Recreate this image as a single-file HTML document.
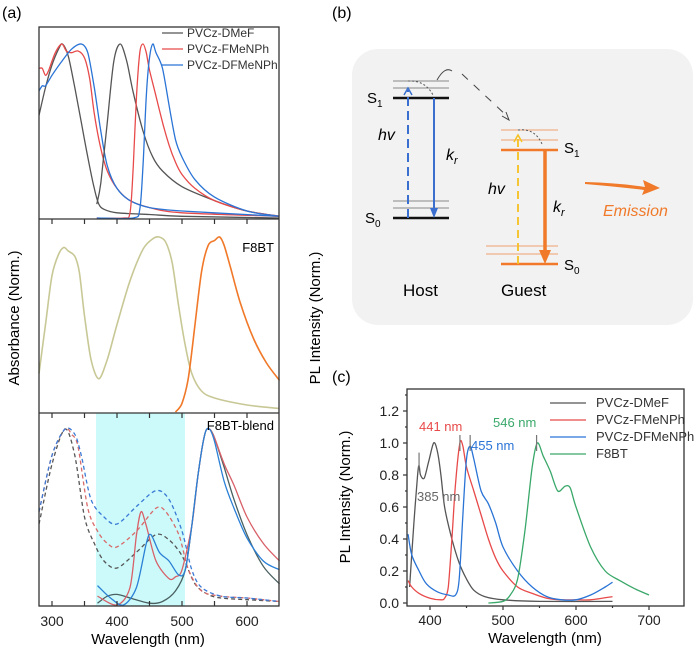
<!DOCTYPE html>
<html><head><meta charset="utf-8">
<style>
html,body{margin:0;padding:0;background:#fff;}
svg{display:block;font-family:"Liberation Sans",Arial,sans-serif;}
</style></head>
<body>
<svg id="fig" width="700" height="650" viewBox="0 0 700 650" xmlns="http://www.w3.org/2000/svg">
  <text x="2" y="18" font-size="16">(a)</text>
  <text x="332" y="18" font-size="16">(b)</text>
  <text x="332" y="382" font-size="16">(c)</text>

  <!-- panel a -->
  <rect x="96" y="413" width="89" height="193" fill="#ccfafa"/>
  <g id="aCurves"></g>
  <rect x="39" y="27" width="240" height="579" fill="none" stroke="#333" stroke-width="1.3"/>
  <line x1="39" y1="219" x2="279" y2="219" stroke="#333" stroke-width="1.3"/>
  <line x1="39" y1="413" x2="279" y2="413" stroke="#333" stroke-width="1.3"/>
  <g id="aTicks"></g>
  <text x="148" y="644" font-size="15" text-anchor="middle">Wavelength (nm)</text>
  <text transform="translate(19,318) rotate(-90)" font-size="15" text-anchor="middle">Absorbance (Norm.)</text>
  <text transform="translate(320,318) rotate(-90)" font-size="15" text-anchor="middle">PL Intensity (Norm.)</text>
  <g>
    <line x1="162" y1="33" x2="183" y2="33" stroke="#555" stroke-width="1.3"/><text x="187" y="37" font-size="12" fill="#333">PVCz-DMeF</text>
    <line x1="162" y1="49" x2="183" y2="49" stroke="#e84a4a" stroke-width="1.3"/><text x="187" y="53" font-size="12" fill="#333">PVCz-FMeNPh</text>
    <line x1="162" y1="65" x2="183" y2="65" stroke="#2a74d6" stroke-width="1.3"/><text x="187" y="69" font-size="12" fill="#333">PVCz-DFMeNPh</text>
  </g>
  <text x="274" y="252" font-size="13" text-anchor="end">F8BT</text>
  <text x="274" y="430" font-size="13" text-anchor="end">F8BT-blend</text>

  <!-- panel b -->
  <g>
    <rect x="352" y="49" width="341" height="276" rx="26" fill="#f2f2f2"/>
    <g stroke="#888" stroke-width="1"><line x1="393" y1="81" x2="449" y2="81"/><line x1="393" y1="88" x2="449" y2="88"/><line x1="393" y1="201" x2="449" y2="201"/><line x1="393" y1="208" x2="449" y2="208"/></g>
    <line x1="393" y1="98" x2="449" y2="98" stroke="#111" stroke-width="2.5"/>
    <line x1="393" y1="218" x2="449" y2="218" stroke="#111" stroke-width="2.5"/>
    <line x1="408" y1="218" x2="408" y2="90" stroke="#3a6fd0" stroke-width="2" stroke-dasharray="9,5"/>
    <path d="M404 95 L408 88 L412 95" fill="none" stroke="#3a6fd0" stroke-width="1.5"/>
    <line x1="434" y1="98" x2="434" y2="210" stroke="#3a6fd0" stroke-width="2"/>
    <path d="M430 208 L434 218 L438 208 Z" fill="#3a6fd0"/>
    <path d="M408 81 Q425 80 433 95" fill="none" stroke="#555" stroke-dasharray="2,2"/>
    <path d="M437 80 Q445 66 452 71" fill="none" stroke="#444"/>
    <path d="M462 74 L507 116" fill="none" stroke="#444" stroke-dasharray="8,8"/>
    <path d="M502 116 L509 120 L506 112" fill="none" stroke="#444"/>
    <g stroke="#f0a070" stroke-width="1"><line x1="501" y1="130" x2="558" y2="130"/><line x1="501" y1="140" x2="558" y2="140"/><line x1="486" y1="246" x2="558" y2="246"/><line x1="486" y1="254" x2="558" y2="254"/></g>
    <line x1="501" y1="150" x2="558" y2="150" stroke="#f07a2a" stroke-width="2.5"/>
    <line x1="501" y1="264" x2="558" y2="264" stroke="#f07a2a" stroke-width="2.5"/>
    <line x1="518" y1="264" x2="518" y2="137" stroke="#f5c020" stroke-width="1.8" stroke-dasharray="8,5"/>
    <path d="M514 142 L518 135 L522 142" fill="none" stroke="#f5c020" stroke-width="1.5"/>
    <line x1="545" y1="150" x2="545" y2="252" stroke="#f07a2a" stroke-width="3.5"/>
    <path d="M539 250 L545 264 L551 250 Z" fill="#f07a2a"/>
    <path d="M518 130 Q535 128 542 144" fill="none" stroke="#555" stroke-dasharray="2,2"/>
    <path d="M585 182 Q620 183 645 187 L643 180 L660 188 L642 195 L644 190 Q620 187 585 184 Z" fill="#f07a2a"/>
    <text x="367" y="103" font-size="15">S<tspan font-size="10" dy="4">1</tspan></text>
    <text x="365" y="223" font-size="15">S<tspan font-size="10" dy="4">0</tspan></text>
    <text x="378" y="140" font-size="16" font-style="italic">hv</text>
    <text x="446" y="160" font-size="16" font-style="italic">k<tspan font-size="11" dy="4">r</tspan></text>
    <text x="564" y="153" font-size="15">S<tspan font-size="10" dy="4">1</tspan></text>
    <text x="564" y="270" font-size="15">S<tspan font-size="10" dy="4">0</tspan></text>
    <text x="488" y="194" font-size="16" font-style="italic">hv</text>
    <text x="553" y="212" font-size="16" font-style="italic">k<tspan font-size="11" dy="4">r</tspan></text>
    <text x="603" y="216" font-size="16" font-style="italic" fill="#f07a2a">Emission</text>
    <text x="403" y="296" font-size="17">Host</text>
    <text x="501" y="296" font-size="17">Guest</text>
  </g>

  <!-- panel c -->
  <g id="cCurves"></g>
  <rect x="407" y="389" width="277" height="217" fill="none" stroke="#333" stroke-width="1.3"/>
  <g id="cTicks"></g>
  <text x="545" y="643" font-size="15" text-anchor="middle">Wavelength (nm)</text>
  <text transform="translate(350,497) rotate(-90)" font-size="15" text-anchor="middle">PL Intensity (Norm.)</text>
  <g>
    <line x1="550" y1="403" x2="586" y2="403" stroke="#555" stroke-width="1.3"/><text x="596" y="407" font-size="13" fill="#333">PVCz-DMeF</text>
    <line x1="550" y1="420" x2="586" y2="420" stroke="#e84a4a" stroke-width="1.3"/><text x="596" y="424" font-size="13" fill="#333">PVCz-FMeNPh</text>
    <line x1="550" y1="437" x2="586" y2="437" stroke="#2a74d6" stroke-width="1.3"/><text x="596" y="441" font-size="13" fill="#333">PVCz-DFMeNPh</text>
    <line x1="550" y1="454" x2="586" y2="454" stroke="#3aa86a" stroke-width="1.3"/><text x="596" y="458" font-size="13" fill="#333">F8BT</text>
  </g>
  <text x="419" y="431" font-size="13" fill="#e84a4a">441 nm</text>
  <text x="471" y="450" font-size="13" fill="#2a74d6">455 nm</text>
  <text x="493" y="427" font-size="13" fill="#3aa86a">546 nm</text>
  <text x="417" y="501" font-size="13" fill="#666">385 nm</text>
</svg>
<script>
// ===== Panel (a) data =====
const aTopAbsDMeF_x = [280,290,300,310,316,325,335,345,355,365,372,380,400,450,500,650];
const aTopAbsDMeF_y = [0.59,0.75,0.88,0.97,1.0,0.93,0.75,0.55,0.35,0.17,0.08,0.05,0.03,0.02,0.01,0.0];
const aTopAbsFMe_x = [280,285,290,295,305,315,322,330,340,350,358,365,375,385,400,420,450,500,650];
const aTopAbsFMe_y = [0.86,0.86,0.82,0.85,0.95,1.0,0.96,0.95,0.96,0.92,0.8,0.6,0.4,0.27,0.17,0.1,0.06,0.03,0.01];
const aTopAbsDF_x = [280,285,290,300,315,330,345,355,365,375,385,400,420,450,500,650];
const aTopAbsDF_y = [0.73,0.76,0.76,0.82,0.9,0.97,1.0,0.95,0.75,0.5,0.3,0.17,0.1,0.06,0.04,0.01];
const aTopPLDMeF_x = [369,375,385,395,405,415,425,440,455,470,500,550,600,650];
const aTopPLDMeF_y = [0.08,0.2,0.55,0.9,1.0,0.9,0.72,0.5,0.35,0.27,0.18,0.1,0.04,0.01];
const aTopPLFMe_x = [369,410,420,425,430,435,440,445,450,460,470,480,490,500,520,550,600,650];
const aTopPLFMe_y = [0,0,0.03,0.3,0.7,0.95,1.0,0.95,0.85,0.7,0.55,0.42,0.32,0.25,0.17,0.1,0.04,0.01];
const aTopPLDF_x = [369,425,435,440,445,450,455,460,470,480,490,500,520,550,600,650];
const aTopPLDF_y = [0,0,0.05,0.3,0.7,0.92,1.0,0.95,0.86,0.65,0.45,0.35,0.22,0.12,0.04,0.01];
const aMidAbs_x = [280,290,300,310,318,325,335,342,350,360,372,385,400,420,440,455,465,475,485,495,505,515,530,550,600,650];
const aMidAbs_y = [0.22,0.5,0.78,0.9,0.94,0.92,0.89,0.8,0.55,0.3,0.19,0.3,0.5,0.75,0.93,0.99,1.0,0.97,0.85,0.6,0.38,0.22,0.12,0.08,0.04,0.02];
const aMidPL_x = [490,500,510,520,530,540,550,558,565,575,590,610,630,650];
const aMidPL_y = [0,0.05,0.2,0.5,0.8,0.95,0.98,1.0,0.95,0.82,0.62,0.42,0.28,0.18];
const aBotAbsDMeF_x = [280,300,320,335,350,365,380,400,430,460,480,500,520,540,560,600,650];
const aBotAbsDMeF_y = [0.46,0.8,1.0,0.85,0.5,0.35,0.25,0.21,0.3,0.4,0.37,0.28,0.12,0.06,0.04,0.03,0.02];
const aBotAbsFMe_x = [280,300,320,330,340,355,370,385,400,430,460,475,495,510,530,560,600,650];
const aBotAbsFMe_y = [0.53,0.85,1.0,0.97,0.9,0.55,0.42,0.35,0.33,0.42,0.55,0.53,0.4,0.2,0.08,0.05,0.04,0.02];
const aBotAbsDF_x = [280,300,320,335,345,360,380,400,430,460,480,500,515,530,560,600,650];
const aBotAbsDF_y = [0.53,0.85,1.0,0.97,0.85,0.6,0.5,0.46,0.56,0.65,0.6,0.42,0.2,0.1,0.05,0.04,0.02];
const aBotPLDMeF_x = [370,385,400,420,450,470,490,505,515,525,535,542,550,565,580,600,625,650];
const aBotPLDMeF_y = [0.01,0.05,0.06,0.04,0.01,0.02,0.08,0.2,0.45,0.75,0.97,1.0,0.95,0.78,0.6,0.4,0.22,0.12];
const aBotPLFMe_x = [370,400,420,430,437,445,460,480,490,500,515,525,535,542,550,565,580,600,625,650];
const aBotPLFMe_y = [0.05,0,0.1,0.4,0.53,0.45,0.25,0.15,0.16,0.2,0.45,0.75,0.97,1.0,0.95,0.8,0.68,0.5,0.35,0.25];
const aBotPLDF_x = [370,390,410,430,445,452,465,480,495,505,515,525,535,542,550,565,580,600,625,650];
const aBotPLDF_y = [0.11,0.04,0,0.1,0.35,0.4,0.3,0.25,0.17,0.2,0.45,0.75,0.97,1.0,0.93,0.7,0.55,0.38,0.25,0.2];
const aTickLabels = [300,400,500,600];
const aMinorTicks = [300,350,400,450,500,550,600];

// ===== Panel (c) data =====
const cDMeF_x = [372,378,383,385,387,392,398,405,410,415,420,430,440,450,460,475,500,550,650];
const cDMeF_y = [0.1,0.5,0.8,0.86,0.8,0.78,0.88,1.0,0.95,0.8,0.6,0.4,0.25,0.15,0.08,0.04,0.02,0.01,0.01];
const cFMe_x = [370,375,385,400,415,420,425,430,435,441,445,450,460,470,480,490,500,520,540,560,580,600,620,650];
const cFMe_y = [0.14,0.1,0.06,0.03,0.02,0.03,0.1,0.4,0.75,1.0,0.98,0.85,0.7,0.55,0.4,0.28,0.2,0.1,0.06,0.03,0.02,0.02,0.02,0.04];
const cDF_x = [370,375,385,395,410,425,435,440,445,450,455,460,470,480,490,500,520,540,560,580,600,620,640,650];
const cDF_y = [0.43,0.3,0.2,0.12,0.07,0.05,0.05,0.15,0.55,0.9,0.98,0.9,0.7,0.62,0.5,0.35,0.2,0.1,0.04,0.02,0.02,0.05,0.1,0.13];
const cF8_x = [480,500,510,520,530,540,547,555,565,575,585,592,600,620,640,660,680,700];
const cF8_y = [0,0.01,0.05,0.15,0.45,0.85,1.0,0.92,0.82,0.7,0.73,0.72,0.6,0.35,0.2,0.14,0.09,0.05];
const cPeakMarks = [385,441,455,546];
const cPeakTops = [0.94,1.05,1.05,1.05];
const cXTicks = [400,500,600,700];
const cXMinor = [450,550,650];
const cYTicks = [0,0.2,0.4,0.6,0.8,1.0,1.2];
const cYMinor = [0.1,0.3,0.5,0.7,0.9,1.1,1.3];

const NS = 'http://www.w3.org/2000/svg';
function ax(w){ return 39 + (w-280)*0.65; }
function ayTop(v){ return 218 - v*174; }
function ayMid(v){ return 412 - v*175; }
function ayBot(v){ return 605 - v*176; }
function cx(w){ return 430 + (w-400)*0.73; }
function cy(v){ return 603 - v*160; }
function curve(parent, xs, ys, fx, fy, color, name, dash, w){
  const p = document.createElementNS(NS,'path');
  const P = xs.map((x,i)=>[fx(x), fy(ys[i])]);
  let d = 'M'+P[0][0].toFixed(1)+' '+P[0][1].toFixed(1);
  const t = 0.15;
  for(let i=0;i<P.length-1;i++){
    const p0=P[Math.max(0,i-1)], p1=P[i], p2=P[i+1], p3=P[Math.min(P.length-1,i+2)];
    const c1x=p1[0]+(p2[0]-p0[0])*t, c1y=p1[1]+(p2[1]-p0[1])*t;
    const c2x=p2[0]-(p3[0]-p1[0])*t, c2y=p2[1]-(p3[1]-p1[1])*t;
    d += ' C'+c1x.toFixed(1)+' '+c1y.toFixed(1)+' '+c2x.toFixed(1)+' '+c2y.toFixed(1)+' '+p2[0].toFixed(1)+' '+p2[1].toFixed(1);
  }
  p.setAttribute('d', d);
  p.setAttribute('fill','none');
  p.setAttribute('stroke', color);
  p.setAttribute('stroke-width', w||1.3);
  p.setAttribute('stroke-linejoin','round');
  if(dash) p.setAttribute('stroke-dasharray', dash);
  
  
  parent.appendChild(p);
}
function line(parent,x1,y1,x2,y2,color,name){
  const l=document.createElementNS(NS,'line');
  l.setAttribute('x1',x1);l.setAttribute('y1',y1);l.setAttribute('x2',x2);l.setAttribute('y2',y2);
  l.setAttribute('stroke',color||'#333');l.setAttribute('stroke-width',1.2);
  
  
  parent.appendChild(l);
}
function text(parent,x,y,s,anchor,name){
  const t=document.createElementNS(NS,'text');
  t.setAttribute('x',x);t.setAttribute('y',y);t.setAttribute('font-size',14);
  t.setAttribute('text-anchor',anchor);t.setAttribute('fill','#222');
  t.textContent=s;
  
  
  parent.appendChild(t);
}
const A=document.getElementById('aCurves');
curve(A,aTopAbsDMeF_x,aTopAbsDMeF_y,ax,ayTop,'#555','top-abs-dmef');
curve(A,aTopAbsFMe_x,aTopAbsFMe_y,ax,ayTop,'#e84a4a','top-abs-fmenph');
curve(A,aTopAbsDF_x,aTopAbsDF_y,ax,ayTop,'#2a74d6','top-abs-dfmenph');
curve(A,aTopPLDMeF_x,aTopPLDMeF_y,ax,ayTop,'#555','top-pl-dmef');
curve(A,aTopPLFMe_x,aTopPLFMe_y,ax,ayTop,'#e84a4a','top-pl-fmenph');
curve(A,aTopPLDF_x,aTopPLDF_y,ax,ayTop,'#2a74d6','top-pl-dfmenph');
curve(A,aMidAbs_x,aMidAbs_y,ax,ayMid,'#c8c896','f8bt-abs',null,1.6);
curve(A,aMidPL_x,aMidPL_y,ax,ayMid,'#f07828','f8bt-pl',null,1.6);
curve(A,aBotAbsDMeF_x,aBotAbsDMeF_y,ax,ayBot,'#555','blend-abs-dmef','4,3');
curve(A,aBotAbsFMe_x,aBotAbsFMe_y,ax,ayBot,'#d86a6a','blend-abs-fmenph','4,3');
curve(A,aBotAbsDF_x,aBotAbsDF_y,ax,ayBot,'#3a7ad6','blend-abs-dfmenph','4,3');
curve(A,aBotPLDMeF_x,aBotPLDMeF_y,ax,ayBot,'#4a6060','blend-pl-dmef');
curve(A,aBotPLFMe_x,aBotPLFMe_y,ax,ayBot,'#d86068','blend-pl-fmenph');
curve(A,aBotPLDF_x,aBotPLDF_y,ax,ayBot,'#2a80d6','blend-pl-dfmenph');

const AT=document.getElementById('aTicks');
aMinorTicks.forEach(w=>{
  line(AT,ax(w),219,ax(w),224,'#333','tick-top');
  line(AT,ax(w),413,ax(w),418,'#333','tick-mid');
  line(AT,ax(w),606,ax(w),601,'#333','tick-bottom');
});
aTickLabels.forEach(w=>{ text(AT,ax(w),626,String(w),'middle','a-x-tick-label'); });

const C=document.getElementById('cCurves');
curve(C,cDMeF_x,cDMeF_y,cx,cy,'#555','pl-dmef');
curve(C,cFMe_x,cFMe_y,cx,cy,'#e84a4a','pl-fmenph');
curve(C,cDF_x,cDF_y,cx,cy,'#2a74d6','pl-dfmenph');
curve(C,cF8_x,cF8_y,cx,cy,'#3aa86a','pl-f8bt');
cPeakMarks.forEach((w,i)=>{ line(C,cx(w),cy(cPeakTops[i]),cx(w),cy(cPeakTops[i]-0.1),'#777','peak-marker'); });

const CT=document.getElementById('cTicks');
cXTicks.forEach(w=>{ line(CT,cx(w),606,cx(w),610,'#333','c-x-tick'); text(CT,cx(w),625,String(w),'middle','c-x-tick-label'); });
cXMinor.forEach(w=>{ line(CT,cx(w),606,cx(w),608,'#333','c-x-minor-tick'); });
cYTicks.forEach(v=>{ line(CT,403,cy(v),407,cy(v),'#333','c-y-tick'); text(CT,399,cy(v)+5,v.toFixed(1),'end','c-y-tick-label'); });
cYMinor.forEach(v=>{ line(CT,405,cy(v),407,cy(v),'#333','c-y-minor-tick'); });
</script>
</body></html>
